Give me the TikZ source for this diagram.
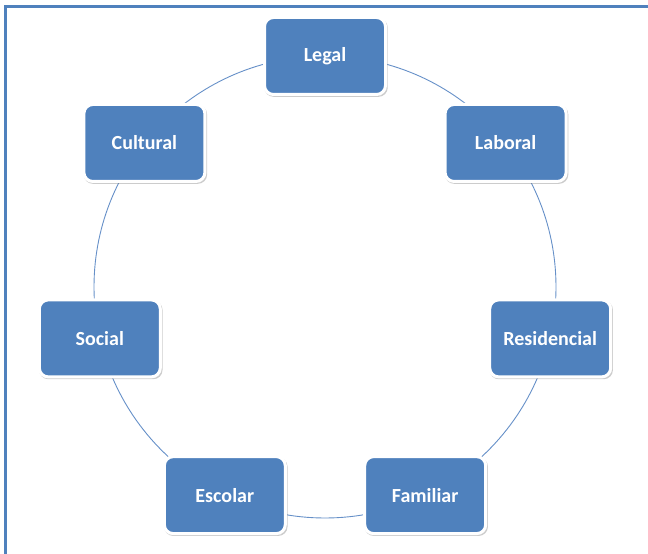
\documentclass[tikz,border=0pt]{standalone}
\usepackage{fontspec}
\setmainfont{Carlito}
\usepackage{tikz}
\usetikzlibrary{shadows}
\definecolor{boxblue}{HTML}{4F81BD}
\definecolor{ringblue}{HTML}{6690C8}

\begin{document}
\begin{tikzpicture}[x=1pt,y=1pt,
		area/.style={rectangle, rounded corners=9pt, fill=boxblue, draw=white,
			line width=3pt, minimum width=121pt, minimum height=77pt,
			text=white, font=\fontsize{20}{24}\selectfont\bfseries,
			drop shadow={shadow xshift=1pt, shadow yshift=-1.5pt, opacity=0.4,
				shadow scale=1.02}}]
	\useasboundingbox (0,0) rectangle (648,554);
	% frame (top and left)
	\draw[boxblue, line width=2.6pt] (5.5,0) -- (5.5,547.5) -- (648,547.5);
	
	\coordinate (ctr) at (325,267);
	\draw[ringblue, line width=0.9pt] (ctr) circle (231);
	
	% seven boxes on the ring
	\begin{scope}[shift={(ctr)}]
		\foreach \n/\a/\t in
		{legal/90/Legal, laboral/38.57/Laboral, residencial/-12.86/Residencial,
			familiar/-64.29/Familiar, escolar/-115.71/Escolar, social/-167.14/Social,
			cultural/141.43/Cultural}{
			\node[area] (\n) at (\a:231) {\t};
		}
	\end{scope}
\end{tikzpicture}
\end{document}
